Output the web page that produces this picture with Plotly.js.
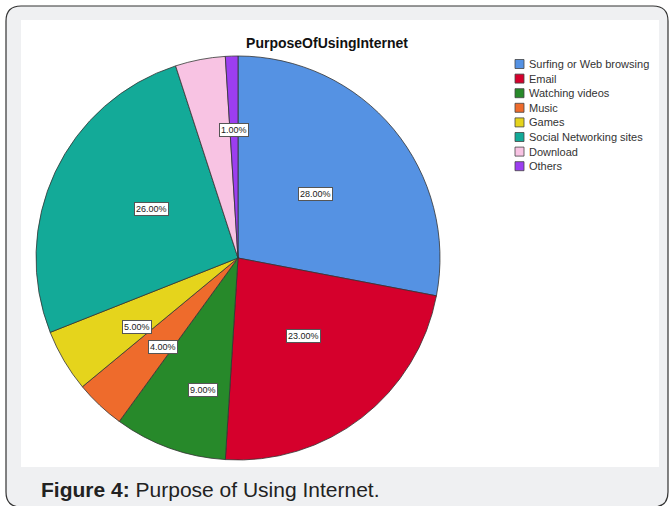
<!DOCTYPE html>
<html>
<head>
<meta charset="utf-8">
<script src="https://cdn.plot.ly/plotly-3.0.1.min.js"></script>
<style>
html,body{margin:0;padding:0;background:#fff;}
#chart{width:669px;height:506px;}
</style>
</head>
<body>
<div id="chart"></div>
<script>
// ---- data ----
const categories = ["Surfing or Web browsing","Email","Watching videos","Music","Games","Social Networking sites","Download","Others"];
const values = [28, 23, 9, 4, 5, 26, 4, 1];
const chartTitle = "PurposeOfUsingInternet";
const captionBold = "Figure 4:";
const captionText = " Purpose of Using Internet.";

// ---- style / layout ----
const colors = ["#5592e3","#d5002c","#27892a","#ee6b2c","#e5d41c","#13aa98","#f8c3e3","#9c3ef0"];
const labelRadius = [0.50, 0.53, 0.73, 0.65, 0.67, 0.57, null, 0.67]; // fraction of radius; null = no label
const W = 669, H = 506;
const cxPx = 238, cyPx = 258, rPx = 202;
const font = "Liberation Sans, Arial, sans-serif";

const px2x = p => p / W;
const px2y = p => 1 - p / H;

const domain = {
  x: [px2x(cxPx - rPx), px2x(cxPx + rPx)],
  y: [px2y(cyPx + rPx), px2y(cyPx - rPx)]
};

const trace = {
  type: "pie",
  labels: categories,
  values: values,
  sort: false,
  direction: "clockwise",
  rotation: 0,
  marker: {colors: colors, line: {color: "#333", width: 0.8}},
  textinfo: "none",
  hoverinfo: "label+percent",
  showlegend: false,
  domain: domain
};

const total = values.reduce((a, b) => a + b, 0);
const annotations = [];
let cum = 0;
values.forEach((v, i) => {
  const mid = (cum + v / 2) / total * 2 * Math.PI;
  cum += v;
  if (labelRadius[i] === null) return;
  const px = cxPx + rPx * labelRadius[i] * Math.sin(mid);
  const py = cyPx - rPx * labelRadius[i] * Math.cos(mid);
  annotations.push({
    x: px2x(px), y: px2y(py), xref: "paper", yref: "paper",
    text: (v / total * 100).toFixed(2) + "%",
    showarrow: false,
    font: {family: font, size: 9, color: "#222"},
    bgcolor: "#ffffff", bordercolor: "#555", borderwidth: 1, borderpad: 1
  });
});

const shapes = [];
function roundedRect(x0, y0, x1, y1, r) {
  const X = px2x, Y = px2y;
  return `M ${X(x0 + r)} ${Y(y0)} L ${X(x1 - r)} ${Y(y0)} Q ${X(x1)} ${Y(y0)} ${X(x1)} ${Y(y0 + r)} ` +
    `L ${X(x1)} ${Y(y1 - r)} Q ${X(x1)} ${Y(y1)} ${X(x1 - r)} ${Y(y1)} L ${X(x0 + r)} ${Y(y1)} ` +
    `Q ${X(x0)} ${Y(y1)} ${X(x0)} ${Y(y1 - r)} L ${X(x0)} ${Y(y0 + r)} Q ${X(x0)} ${Y(y0)} ${X(x0 + r)} ${Y(y0)} Z`;
}
shapes.push({type: "path", xref: "paper", yref: "paper", layer: "below",
  path: roundedRect(6, 6, 668, 507, 15), fillcolor: "#eff0f2", line: {color: "#333", width: 1.2}});
shapes.push({type: "rect", xref: "paper", yref: "paper", layer: "below",
  x0: px2x(21), x1: px2x(659), y0: px2y(467), y1: px2y(20), fillcolor: "#ffffff", line: {width: 0}});

// custom legend
const legX = 515, legY0 = 64, legStep = 14.6, sw = 9;
categories.forEach((c, i) => {
  const yc = legY0 + i * legStep;
  shapes.push({type: "rect", xref: "paper", yref: "paper",
    x0: px2x(legX), x1: px2x(legX + sw), y0: px2y(yc + sw / 2), y1: px2y(yc - sw / 2),
    fillcolor: colors[i], line: {color: "#444", width: 0.8}});
  annotations.push({x: px2x(legX + sw + 3), y: px2y(yc), xref: "paper", yref: "paper",
    xanchor: "left", yanchor: "middle", showarrow: false, text: c,
    font: {family: font, size: 11, color: "#333"}});
});

annotations.push({x: px2x(39), y: px2y(489), xref: "paper", yref: "paper",
  xanchor: "left", yanchor: "middle", showarrow: false,
  text: "<b>" + captionBold + "</b>" + captionText,
  font: {family: font, size: 21, color: "#222"}});

const layout = {
  width: W, height: H,
  margin: {l: 0, r: 0, t: 0, b: 0},
  paper_bgcolor: "#ffffff",
  title: {text: "<b>" + chartTitle + "</b>", x: px2x(327), xanchor: "center",
    y: px2y(43), yanchor: "middle", font: {family: font, size: 14, color: "#111"}},
  shapes: shapes,
  annotations: annotations,
  showlegend: false
};

Plotly.newPlot("chart", [trace], layout, {staticPlot: true, displayModeBar: false});
</script>
</body>
</html>
